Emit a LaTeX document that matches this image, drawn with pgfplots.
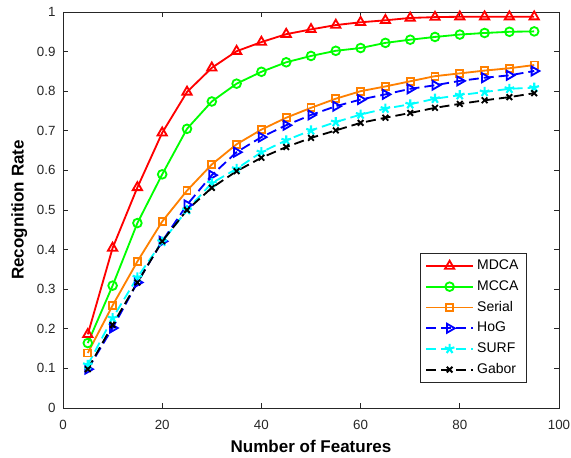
\documentclass[border=0pt]{standalone}
\usepackage{pgfplots}
\pgfplotsset{compat=1.18}
\usepackage{fontspec}
\setmainfont{Liberation Sans}
\definecolor{axgray}{rgb}{0.15,0.15,0.15}
\definecolor{morange}{rgb}{1,0.5,0}
\definecolor{mred}{rgb}{1,0,0}
\definecolor{mgreen}{rgb}{0,1,0}
\definecolor{mblue}{rgb}{0,0,1}
\definecolor{mcyan}{rgb}{0,1,1}
\begin{document}
\begin{tikzpicture}
\begin{axis}[
  scale only axis,
  width=297.6pt, height=237.6pt,
  xmin=0, xmax=100, ymin=0, ymax=1,
  xtick={0,20,40,60,80,100},
  ytick={0,0.1,0.2,0.3,0.4,0.5,0.6,0.7,0.8,0.9,1},
  yticklabels={0,0.1,0.2,0.3,0.4,0.5,0.6,0.7,0.8,0.9,1},
  /pgf/number format/assume math mode=true,
  tick label style={font=\fontsize{8}{9}\selectfont, text=axgray},
  xticklabel style={yshift=-4pt, inner xsep=0pt},
  yticklabel style={xshift=-1pt},
  axis line style={axgray, line width=0.5pt},
  tick style={axgray, line width=0.5pt},
  major tick length=3pt,
  xlabel={\bfseries Number of Features},
  ylabel={\bfseries Recognition Rate},
  label style={font=\fontsize{10.2}{12}\selectfont},
  xlabel style={yshift=1pt},
  ylabel style={yshift=-1pt},
  legend style={at={(rel axis cs:0.935,0.064)}, anchor=south east,
    font=\fontsize{8.4}{10}\selectfont, draw=axgray, line width=0.5pt,
    row sep=1pt, inner xsep=3pt, inner ysep=2pt, outer sep=0pt},
  legend cell align=left,
  legend image code/.code={\draw[mark repeat=2,mark phase=2] plot coordinates {(0pt,0pt) (14pt,0pt) (28pt,0pt)};},
  every axis plot/.append style={line width=1.1pt},
]
\addplot[mred, mark=triangle, mark size=3.2pt, mark options={solid, line width=1.1pt}] coordinates {
(5,0.186) (10,0.404) (15,0.557) (20,0.695) (25,0.798) (30,0.859) (35,0.901) (40,0.924) (45,0.944) (50,0.956) (55,0.967) (60,0.974) (65,0.979) (70,0.985) (75,0.987) (80,0.988) (85,0.988) (90,0.988) (95,0.988)};
\addlegendentry{MDCA}
\addplot[mgreen, mark=o, mark size=2.6pt, mark options={solid, line width=1.1pt}] coordinates {
(5,0.164) (10,0.309) (15,0.467) (20,0.590) (25,0.705) (30,0.774) (35,0.819) (40,0.849) (45,0.873) (50,0.889) (55,0.902) (60,0.909) (65,0.922) (70,0.930) (75,0.937) (80,0.943) (85,0.947) (90,0.950) (95,0.951)};
\addlegendentry{MCCA}
\addplot[morange, mark=square, mark size=2.1pt, mark options={solid, line width=1.1pt}] coordinates {
(5,0.139) (10,0.259) (15,0.370) (20,0.471) (25,0.549) (30,0.615) (35,0.666) (40,0.703) (45,0.733) (50,0.758) (55,0.781) (60,0.800) (65,0.812) (70,0.825) (75,0.838) (80,0.845) (85,0.852) (90,0.858) (95,0.866)};
\addlegendentry{Serial}
\addplot[mblue, dash pattern=on 6pt off 3pt, mark=triangle, mark size=3.1pt, mark options={solid, rotate=-90, line width=1.1pt}] coordinates {
(5,0.098) (10,0.202) (15,0.317) (20,0.421) (25,0.513) (30,0.588) (35,0.646) (40,0.684) (45,0.714) (50,0.740) (55,0.762) (60,0.779) (65,0.792) (70,0.806) (75,0.815) (80,0.826) (85,0.834) (90,0.840) (95,0.851)};
\addlegendentry{HoG}
\addplot[mcyan, dash pattern=on 6pt off 3pt, mark=star, mark size=3pt, mark options={solid, line width=1.3pt}] coordinates {
(5,0.109) (10,0.227) (15,0.330) (20,0.420) (25,0.500) (30,0.568) (35,0.604) (40,0.646) (45,0.676) (50,0.701) (55,0.722) (60,0.741) (65,0.756) (70,0.767) (75,0.781) (80,0.790) (85,0.798) (90,0.806) (95,0.809)};
\addlegendentry{SURF}
\addplot[black, dash pattern=on 6pt off 3pt, mark=x, mark size=2.4pt, mark options={solid, line width=1.1pt}] coordinates {
(5,0.098) (10,0.210) (15,0.317) (20,0.421) (25,0.500) (30,0.556) (35,0.598) (40,0.632) (45,0.659) (50,0.682) (55,0.701) (60,0.720) (65,0.733) (70,0.745) (75,0.758) (80,0.768) (85,0.777) (90,0.785) (95,0.795)};
\addlegendentry{Gabor}
\end{axis}
\path (current axis.south west) ++(-37.8pt,-30pt);
\path (current axis.north east) ++(7.2pt,7.2pt);
\end{tikzpicture}
\end{document}
